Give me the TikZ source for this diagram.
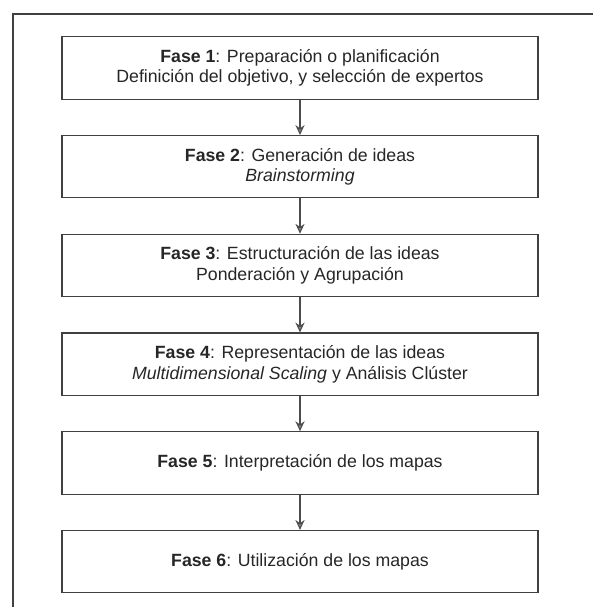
\documentclass[tikz,border=0pt]{standalone}
\usepackage{fontspec}
\setmainfont{Liberation Sans}
\usetikzlibrary{positioning, arrows.meta}

\begin{document}
\begin{tikzpicture}[auto,
  node distance = 0.88cm, text centered,
 fase/.style = {rectangle, draw=black!75, line width=0.8pt, text=black!85,
                   minimum width=11.9cm, minimum height=1.56cm, align=center,
                   font=\fontsize{12.6}{14.5}\selectfont},
   arrow/.style = {line width=0.8pt, draw=black!70, -{Stealth[length=7pt,width=6.5pt,fill=black!45]}}
                    ]
\useasboundingbox (0,0) rectangle (14.825,-15.175);
\draw [line width=0.8pt, black!75] (14.825,-0.35) -| (0.325,-15.175);
\node (fase1) [fase] at (7.5,-1.7) {\textbf{Fase 1}: Preparación o planificación\\Definición del objetivo, y selección de expertos};
\node (fase2) [fase, below=of fase1] {\textbf{Fase 2}: Generación de ideas\\\textit{Brainstorming}};
\node (fase3) [fase, below=of fase2] {\textbf{Fase 3}: Estructuración de las ideas\\Ponderación y Agrupación};
\node (fase4) [fase, below=of fase3] {\textbf{Fase 4}: Representación de las ideas\\\textit{Multidimensional Scaling} y Análisis Clúster};
\node (fase5) [fase, below=of fase4] {\textbf{Fase 5}: Interpretación de los mapas};
\node (fase6) [fase, below=of fase5] {\textbf{Fase 6}: Utilización de los mapas};
% connections
\draw [arrow] (fase1) -- (fase2);
\draw [arrow] (fase2) -- (fase3);
\draw [arrow] (fase3) -- (fase4);
\draw [arrow] (fase4) -- (fase5);
\draw [arrow] (fase5) -- (fase6);
\end{tikzpicture}
\end{document}
